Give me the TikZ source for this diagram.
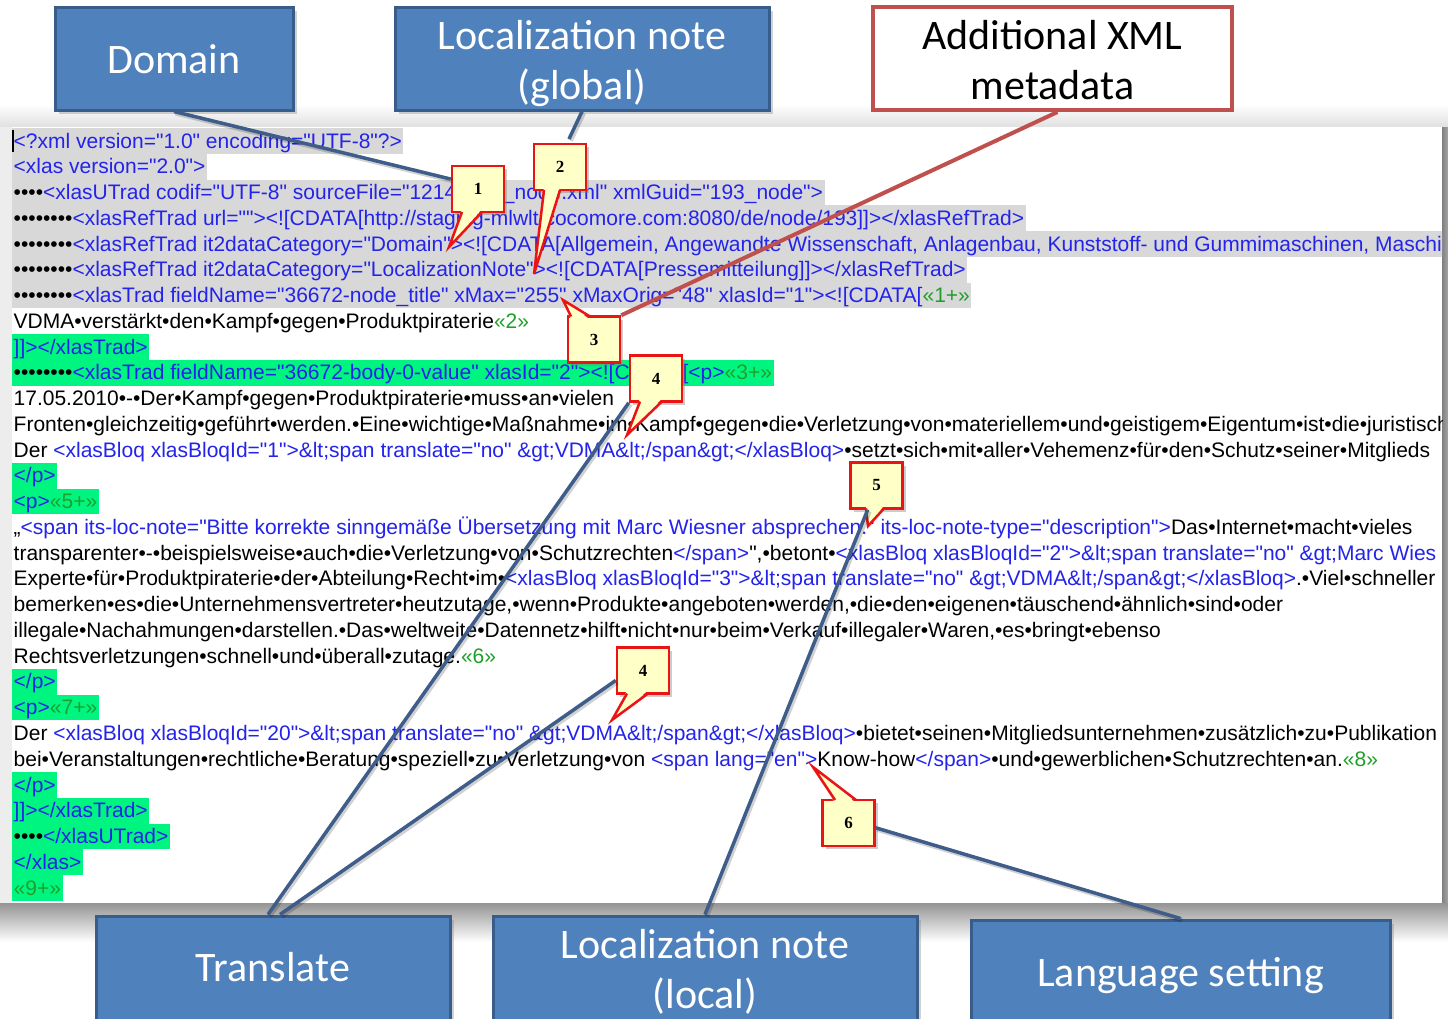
\documentclass[tikz,border=0pt]{standalone}
\usepackage{fontspec}
\usetikzlibrary{shadows,calc}
\newfontfamily\codefont{Liberation Sans}
\newfontfamily\boxfont{Carlito}
\newfontfamily\numfont{Liberation Serif}
\definecolor{boxblue}{RGB}{79,129,189}
\definecolor{boxedge}{RGB}{56,93,138}
\definecolor{connblue}{RGB}{62,93,138}
\definecolor{xmlred}{RGB}{192,80,77}
\definecolor{cyellow}{RGB}{255,255,200}
\definecolor{cred}{RGB}{235,20,20}
\definecolor{xb}{RGB}{35,35,235}
\definecolor{xg}{RGB}{30,160,40}
\definecolor{hlgray}{RGB}{216,216,216}
\definecolor{hlgreen}{RGB}{0,245,128}
\newcommand\xB[1]{\textcolor{xb}{#1}}
\newcommand\xG[1]{\textcolor{xg}{#1}}
\newcommand\cptr[4]{%
  \fill[cyellow] ($#1+#4$) -- #3 -- ($#2+#4$) -- cycle;
  \draw[cred, line width=2.5pt, line join=miter] #1 -- #3 -- #2;}
\begin{document}
\begin{tikzpicture}[x=1pt,y=-1pt,
  codeln/.style={anchor=base west, inner xsep=1.5pt, inner ysep=0pt, text height=20pt, text depth=5.76pt, font=\codefont\fontsize{21}{24}\selectfont},
  gl/.style={fill=hlgray},
  gn/.style={fill=hlgreen},
  boxbase/.style={draw=boxedge, fill=boxblue, line width=3pt, text=white, align=center, inner sep=0pt, font=\boxfont\fontsize{42}{50}\selectfont},
  bigbox/.style={boxbase, drop shadow={shadow xshift=4pt, shadow yshift=-4pt, opacity=0.35}},
  callbox/.style={draw=cred, fill=cyellow, line width=2.5pt, minimum width=52pt, minimum height=46pt, inner sep=0pt, font=\numfont\bfseries\fontsize{17}{20}\selectfont, drop shadow={shadow xshift=3pt, shadow yshift=-3pt, opacity=0.4}},
  conn/.style={draw=connblue, line width=3.5pt, preaction={draw=black, opacity=0.18, line width=5pt, transform canvas={xshift=1.5pt, yshift=-1.5pt}}},
  connred/.style={draw=xmlred, line width=4pt}]
\useasboundingbox (0,0) rectangle (1448,1018);
\clip (0,0) rectangle (1448,1018);
\fill[white] (0,0) rectangle (1448,1018);
% screenshot frame and shadow
\shade[top color=white, bottom color=black!12] (0,104) rectangle (1448,127);
\fill[black!7] (0,127) rectangle (12,903);
\shade[left color=black!50, right color=black!35] (1442,127) rectangle (1448,903);
\shade[top color=black!42, bottom color=white] (0,903) rectangle (1448,942);
\fill[white] (12,127) rectangle (1442,903);
\begin{scope}
\clip (12,127) rectangle (1442,903);
\node[codeln,gl] (l1) at (12,148) {\xB{<?xml version="1.0" encoding="UTF-8"?>}};
\node[codeln,gl] (l2) at (12,173.76) {\xB{<xlas version="2.0">}};
\node[codeln,gl] (l3) at (12,199.52) {••••\xB{<xlasUTrad codif="UTF-8" sourceFile="1214\phantom{3667}\_node.xml" xmlGuid="193\_node">}};
\node[codeln,gl] (l4) at (12,225.28) {••••••••\xB{<xlasRefTrad url=""><![CDATA[http://staging-mlwlt.cocomore.com:8080/de/node/193]]></xlasRefTrad>}};
\node[codeln,gl] (l5) at (12,251.04) {••••••••\xB{<xlasRefTrad it2dataCategory="Domain"><![CDATA[Allgemein, Angewandte Wissenschaft, Anlagenbau, Kunststoff- und Gummimaschinen, Maschi}\hspace*{60pt}};
\node[codeln,gl] (l6) at (12,276.8) {••••••••\xB{<xlasRefTrad it2dataCategory="LocalizationNote"><![CDATA[Pressemitteilung]]></xlasRefTrad>}};
\node[codeln,gl] (l7) at (12,302.56) {••••••••\xB{<xlasTrad fieldName="36672-node\_title" xMax="255" xMaxOrig="48" xlasId="1"><![CDATA[}\xG{«1+»}};
\node[codeln] (l8) at (12,328.32) {VDMA•verstärkt•den•Kampf•gegen•Produktpiraterie\xG{«2»}};
\node[codeln,gn] (l9) at (12,354.08) {\xB{]]></xlasTrad>}};
\node[codeln,gn] (l10) at (12,379.84) {••••••••\xB{<xlasTrad fieldName="36672-body-0-value" xlasId="2"><![CDATA[<p>}\xG{«3+»}};
\node[codeln] (l11) at (12,405.6) {17.05.2010•-•Der•Kampf•gegen•Produktpiraterie•muss•an•vielen};
\node[codeln] (l12) at (12,431.36) {Fronten•gleichzeitig•geführt•werden.•Eine•wichtige•Maßnahme•im•Kampf•gegen•die•Verletzung•von•materiellem•und•geistigem•Eigentum•ist•die•juristisch};
\node[codeln] (l13) at (12,457.12) {Der \xB{<xlasBloq xlasBloqId="1">\&lt;span translate="no" \&gt;VDMA\&lt;/span\&gt;</xlasBloq>}•setzt•sich•mit•aller•Vehemenz•für•den•Schutz•seiner•Mitglieds};
\node[codeln,gn] (l14) at (12,482.88) {\xB{</p>}};
\node[codeln,gn] (l15) at (12,508.64) {\xB{<p>}\xG{«5+»}};
\node[codeln] (l16) at (12,534.4) {„\xB{<span its-loc-note="Bitte korrekte sinngemäße Übersetzung mit Marc Wiesner absprechen." its-loc-note-type="description">}Das•Internet•macht•vieles};
\node[codeln] (l17) at (12,560.16) {transparenter•-•beispielsweise•auch•die•Verletzung•von•Schutzrechten\xB{</span>}",•betont•\xB{<xlasBloq xlasBloqId="2">\&lt;span translate="no" \&gt;Marc Wies}};
\node[codeln] (l18) at (12,585.92) {Experte•für•Produktpiraterie•der•Abteilung•Recht•im•\xB{<xlasBloq xlasBloqId="3">\&lt;span translate="no" \&gt;VDMA\&lt;/span\&gt;</xlasBloq>}.•Viel•schneller};
\node[codeln] (l19) at (12,611.68) {bemerken•es•die•Unternehmensvertreter•heutzutage,•wenn•Produkte•angeboten•werden,•die•den•eigenen•täuschend•ähnlich•sind•oder};
\node[codeln] (l20) at (12,637.44) {illegale•Nachahmungen•darstellen.•Das•weltweite•Datennetz•hilft•nicht•nur•beim•Verkauf•illegaler•Waren,•es•bringt•ebenso};
\node[codeln] (l21) at (12,663.2) {Rechtsverletzungen•schnell•und•überall•zutage.\xG{«6»}};
\node[codeln,gn] (l22) at (12,688.96) {\xB{</p>}};
\node[codeln,gn] (l23) at (12,714.72) {\xB{<p>}\xG{«7+»}};
\node[codeln] (l24) at (12,740.48) {Der \xB{<xlasBloq xlasBloqId="20">\&lt;span translate="no" \&gt;VDMA\&lt;/span\&gt;</xlasBloq>}•bietet•seinen•Mitgliedsunternehmen•zusätzlich•zu•Publikation};
\node[codeln] (l25) at (12,766.24) {bei•Veranstaltungen•rechtliche•Beratung•speziell•zu•Verletzung•von \xB{<span lang="en">}Know-how\xB{</span>}•und•gewerblichen•Schutzrechten•an.\xG{«8»}};
\node[codeln,gn] (l26) at (12,792) {\xB{</p>}};
\node[codeln,gn] (l27) at (12,817.76) {\xB{]]></xlasTrad>}};
\node[codeln,gn] (l28) at (12,843.52) {••••\xB{</xlasUTrad>}};
\node[codeln,gn] (l29) at (12,869.28) {\xB{</xlas>}};
\node[codeln,gn] (l30) at (12,895.04) {\xG{«9+»}};
\draw[line width=1.5pt] (13,130) -- (13,152);
\end{scope}
% callouts
\node[callbox] (c1) at (478,189) {1};
\cptr{(462,212)}{(482,212)}{(449,247)}{(0,-3)}
\node[callbox] (c2) at (560,167) {2};
\cptr{(544,190)}{(560,190)}{(534,274)}{(0,-3)}
\node[callbox] (c3) at (594,339.5) {3};
\cptr{(571,316.5)}{(590,316.5)}{(563,300)}{(0,3)}
\node[callbox] (c4a) at (656,378.5) {4};
\cptr{(640,401.5)}{(662,401.5)}{(627,435)}{(0,-3)}
\node[callbox] (c5) at (876.5,485.5) {5};
\cptr{(866,508.5)}{(884,508.5)}{(868,526)}{(0,-3)}
\node[callbox] (c4b) at (643,670.5) {4};
\cptr{(627,693.5)}{(648,693.5)}{(612,720)}{(0,-3)}
\node[callbox] (c6) at (848.5,823) {6};
\cptr{(835,800)}{(856,800)}{(813,767)}{(0,3)}
% label boxes
\node[bigbox, minimum width=238pt, minimum height=103pt, text height=30pt, text depth=0pt] (dom) at (174,58.5) {Domain};
\node[bigbox, minimum width=374pt, minimum height=103pt, text height=82pt, text depth=0pt] (lng) at (582,58.5) {Localization note\\(global)};
\node[boxbase, fill=white, draw=xmlred, line width=4pt, text=black, minimum width=359pt, minimum height=103pt, text height=82pt, text depth=0pt] (xml) at (1052.5,58.5) {Additional XML\\metadata};
\node[bigbox, minimum width=354pt, minimum height=106pt, text height=25pt, text depth=0pt] (tr) at (273,969) {Translate};
\node[bigbox, minimum width=424pt, minimum height=108pt, text height=77pt, text depth=0pt] (lnl) at (705,970) {Localization note\\(local)};
\node[bigbox, minimum width=419pt, minimum height=106pt, text height=27pt, text depth=0pt] (ls) at (1180.5,973) {Language setting};
% connectors
\coordinate (lngend) at (569,139);
\draw[conn] (dom.south) -- (c1.160);
\draw[conn] (lng.south) -- (lngend);
\draw[connred] ($(xml.south)+(5,0)$) -- (c3.north east);
\draw[conn] ($(tr.north)+(-5,0)$) -- (c4a.south west);
\draw[conn] ($(tr.north)+(7,0)$) -- (c4b.200);
\draw[conn] (lnl.north) -- (c5.250);
\draw[conn] (ls.north) -- (c6.-10);
\end{tikzpicture}
\end{document}
